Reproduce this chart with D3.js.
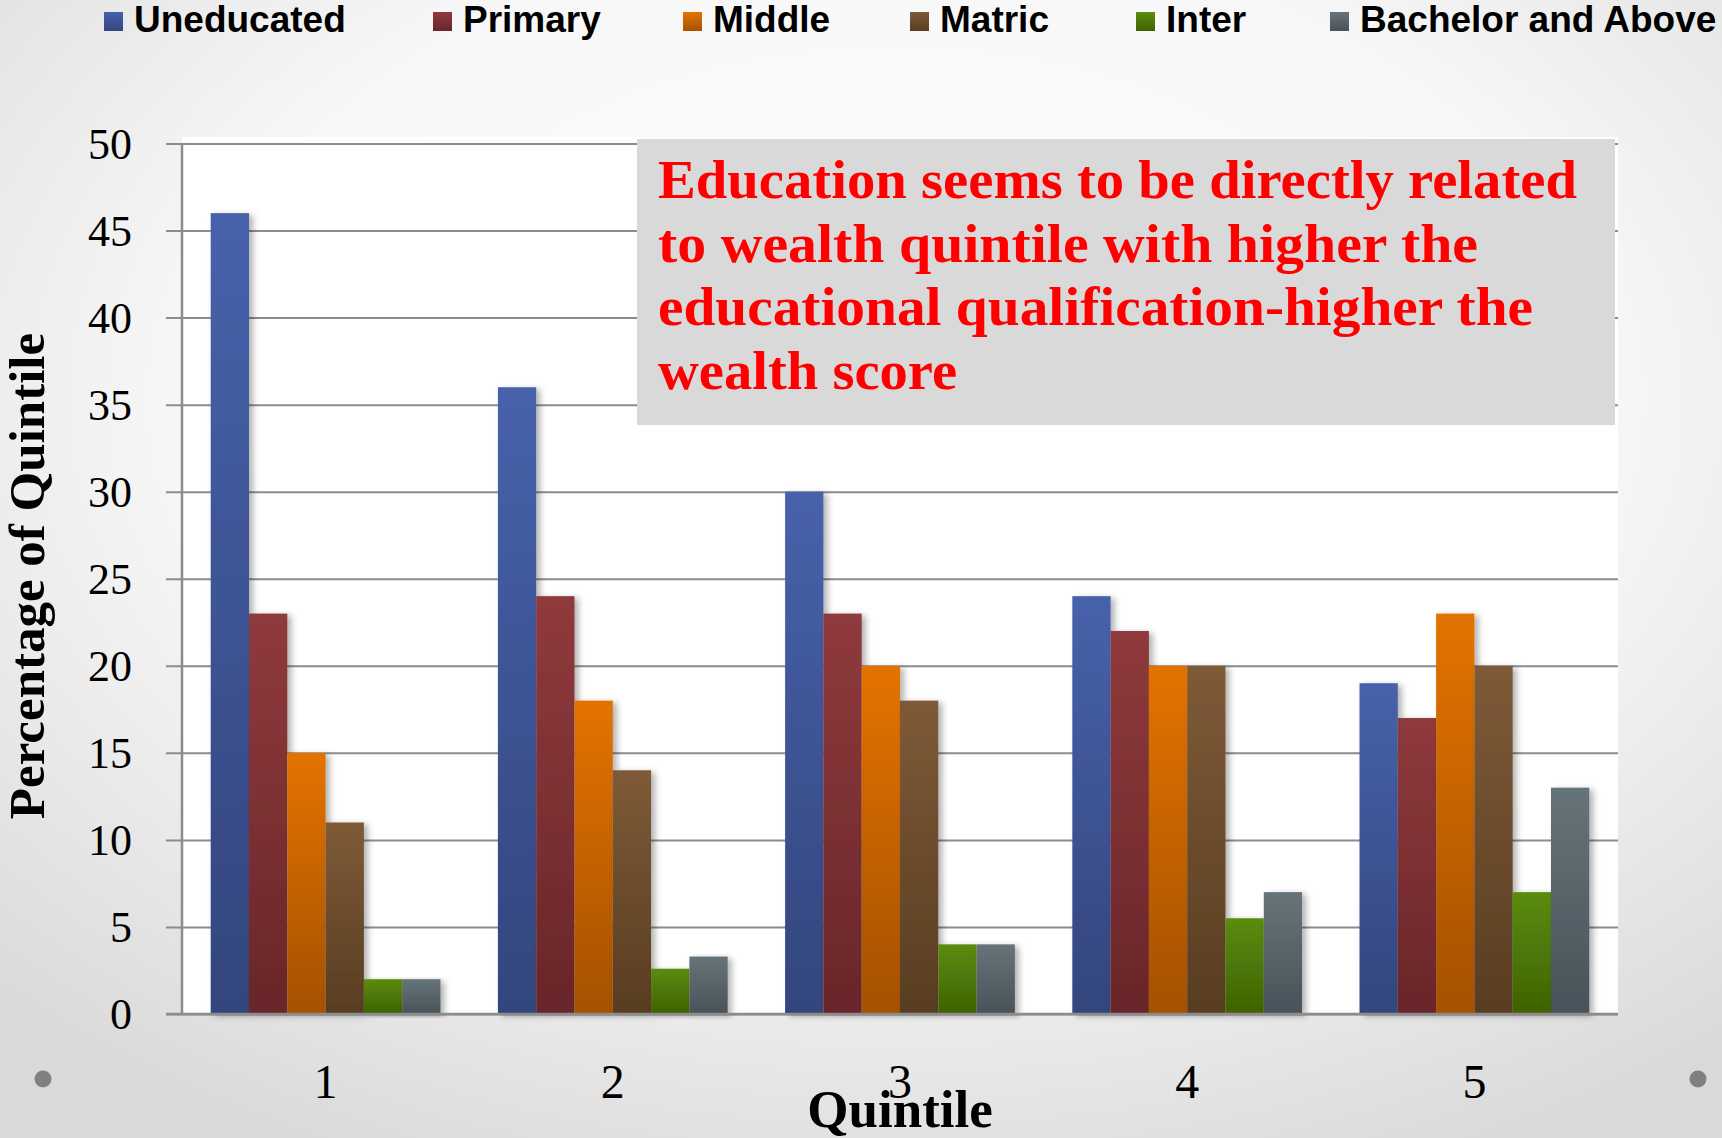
<!DOCTYPE html>
<html>
<head>
<meta charset="utf-8">
<script src="https://cdn.jsdelivr.net/npm/d3@7"></script>
<style>
  html, body { margin: 0; padding: 0; overflow: hidden; }
  svg { display: block; }
</style>
</head>
<body>
<svg id="chart" width="1722" height="1138"></svg>
<script>
// ---- Data ----
const categories = ["1", "2", "3", "4", "5"];
const seriesNames = ["Uneducated", "Primary", "Middle", "Matric", "Inter", "Bachelor and Above"];
const uneducated = [46, 36, 30, 24, 19];
const primary    = [23, 24, 23, 22, 17];
const middle     = [15, 18, 20, 20, 23];
const matric     = [11, 14, 18, 20, 20];
const inter      = [2, 2.6, 4, 5.5, 7];
const bachelor   = [2, 3.3, 4, 7, 13];
const yTicks = [0, 5, 10, 15, 20, 25, 30, 35, 40, 45, 50];
const annotationLines = [
  "Education seems to be directly related",
  "to wealth quintile with higher the",
  "educational qualification-higher the",
  "wealth score"
];
const xTitle = "Quintile";
const yTitle = "Percentage of Quintile";

// ---- Styles ----
const seriesValues = [uneducated, primary, middle, matric, inter, bachelor];
const colorTop    = ["#4762ab", "#8f3a3c", "#e37300", "#7e5a37", "#5b8c0b", "#667479"];
const colorBottom = ["#33457d", "#69262a", "#a55100", "#583d22", "#3e6204", "#485259"];
const serif = "'Palatino Linotype', 'Book Antiqua', Palatino, 'Liberation Serif', 'Times New Roman', serif";
const sans = "Arial, 'Liberation Sans', Helvetica, sans-serif";

const svg = d3.select("#chart");
const defs = svg.append("defs");

const bg = defs.append("radialGradient").attr("id", "bg")
  .attr("cx", "52%").attr("cy", "35%").attr("r", "75%");
bg.append("stop").attr("offset", "0%").attr("stop-color", "#ffffff");
bg.append("stop").attr("offset", "55%").attr("stop-color", "#f7f7f7");
bg.append("stop").attr("offset", "100%").attr("stop-color", "#d9d9d9");

seriesNames.forEach((s, i) => {
  const g = defs.append("linearGradient").attr("id", "grad" + i)
    .attr("x1", 0).attr("y1", 0).attr("x2", 0).attr("y2", 1);
  g.append("stop").attr("offset", "0%").attr("stop-color", colorTop[i]);
  g.append("stop").attr("offset", "100%").attr("stop-color", colorBottom[i]);
});

const shadow = defs.append("filter").attr("id", "shadow")
  .attr("x", "-20%").attr("y", "-5%").attr("width", "150%").attr("height", "115%");
shadow.append("feDropShadow").attr("dx", 4).attr("dy", 2).attr("stdDeviation", 3)
  .attr("flood-color", "#000").attr("flood-opacity", 0.3);

svg.append("rect").attr("width", 1722).attr("height", 1138).attr("fill", "url(#bg)");

// ---- Scales ----
const pL = 182, pR = 1618, pT = 143.5, pB = 1014;
const y = d3.scaleLinear().domain([0, 50]).range([pB, pT]);
const x0 = d3.scaleBand().domain(categories).range([pL, pR])
  .paddingInner(0.2).paddingOuter(0.1);
const x1 = d3.scaleBand().domain(seriesNames).range([0, x0.bandwidth()]).padding(0);

// plot area background
svg.append("rect").attr("x", pL).attr("y", 137).attr("width", pR - pL)
  .attr("height", pB - 137).attr("fill", "#ffffff");

// gridlines
const gy = svg.append("g").attr("transform", `translate(${pL - 16},0)`)
  .call(d3.axisRight(y).tickValues(yTicks).tickSize(pR - pL + 16).tickFormat(""));
gy.select(".domain").remove();
gy.selectAll(".tick line").attr("stroke", "#8c8c8c").attr("stroke-width", 2);

// tick labels
const gl = svg.append("g").attr("transform", `translate(${pL},0)`)
  .call(d3.axisLeft(y).tickValues(yTicks).tickSize(0).tickPadding(50).tickFormat(d3.format("d")));
gl.select(".domain").remove();
gl.selectAll(".tick text").attr("font-family", serif).attr("font-size", 44)
  .attr("fill", "#000").attr("dy", "0.34em");

// vertical axis line
svg.append("line").attr("x1", pL).attr("x2", pL).attr("y1", pT).attr("y2", pB)
  .attr("stroke", "#8c8c8c").attr("stroke-width", 2.5);

// ---- Bars ----
const groups = svg.append("g").selectAll("g").data(categories).join("g")
  .attr("transform", d => `translate(${x0(d)},0)`);
groups.selectAll("rect")
  .data((c, ci) => seriesNames.map((s, si) => ({ s, si, v: seriesValues[si][ci] })))
  .join("rect")
  .attr("x", d => x1(d.s))
  .attr("width", x1.bandwidth())
  .attr("y", d => y(d.v))
  .attr("height", d => y(0) - y(d.v))
  .attr("fill", d => `url(#grad${d.si})`)
  .attr("filter", "url(#shadow)");

// baseline on top
svg.append("line").attr("x1", pL - 16).attr("x2", pR).attr("y1", pB).attr("y2", pB)
  .attr("stroke", "#8c8c8c").attr("stroke-width", 2.5);

// ---- X axis labels ----
const gx = svg.append("g").attr("transform", `translate(0,${pB})`)
  .call(d3.axisBottom(x0).tickSize(0).tickPadding(0));
gx.select(".domain").remove();
gx.selectAll(".tick text").attr("font-family", serif).attr("font-size", 48)
  .attr("fill", "#000").attr("y", 84).attr("dy", 0);

// axis titles
svg.append("text").attr("x", (pL + pR) / 2).attr("y", 1127)
  .attr("text-anchor", "middle").attr("font-family", serif).attr("font-weight", "bold")
  .attr("font-size", 53).attr("fill", "#000").text(xTitle);

svg.append("text").attr("transform", "translate(44,576) rotate(-90)")
  .attr("text-anchor", "middle").attr("font-family", serif).attr("font-weight", "bold")
  .attr("font-size", 51).attr("fill", "#000").text(yTitle);

// ---- Annotation box ----
svg.append("rect").attr("x", 637).attr("y", 139).attr("width", 978).attr("height", 286)
  .attr("fill", "#d9d9d9");
const annWidths = [919, 820, 875, 299];
svg.append("g").selectAll("text").data(annotationLines).join("text")
  .attr("x", 658).attr("y", (d, i) => 198 + i * 63.5)
  .attr("font-family", serif).attr("font-weight", "bold").attr("font-size", 55)
  .attr("fill", "#ff0000")
  .attr("textLength", (d, i) => annWidths[i]).attr("lengthAdjust", "spacingAndGlyphs")
  .text(d => d);

// ---- Legend ----
const legendX = [104, 433, 683, 910, 1136, 1330];
const lg = svg.append("g").selectAll("g").data(seriesNames).join("g")
  .attr("transform", (d, i) => `translate(${legendX[i]},0)`);
lg.append("rect").attr("x", 0).attr("y", 12).attr("width", 19).attr("height", 19)
  .attr("fill", (d, i) => `url(#grad${i})`);
lg.append("text").attr("x", 30).attr("y", 32).attr("font-family", sans)
  .attr("font-weight", "bold").attr("font-size", 37).attr("fill", "#000").text(d => d);

// ---- decorative dots ----
svg.append("g").selectAll("circle").data([43, 1698]).join("circle")
  .attr("cx", d => d).attr("cy", 1079).attr("r", 8.5).attr("fill", "#808080");
</script>
</body>
</html>
